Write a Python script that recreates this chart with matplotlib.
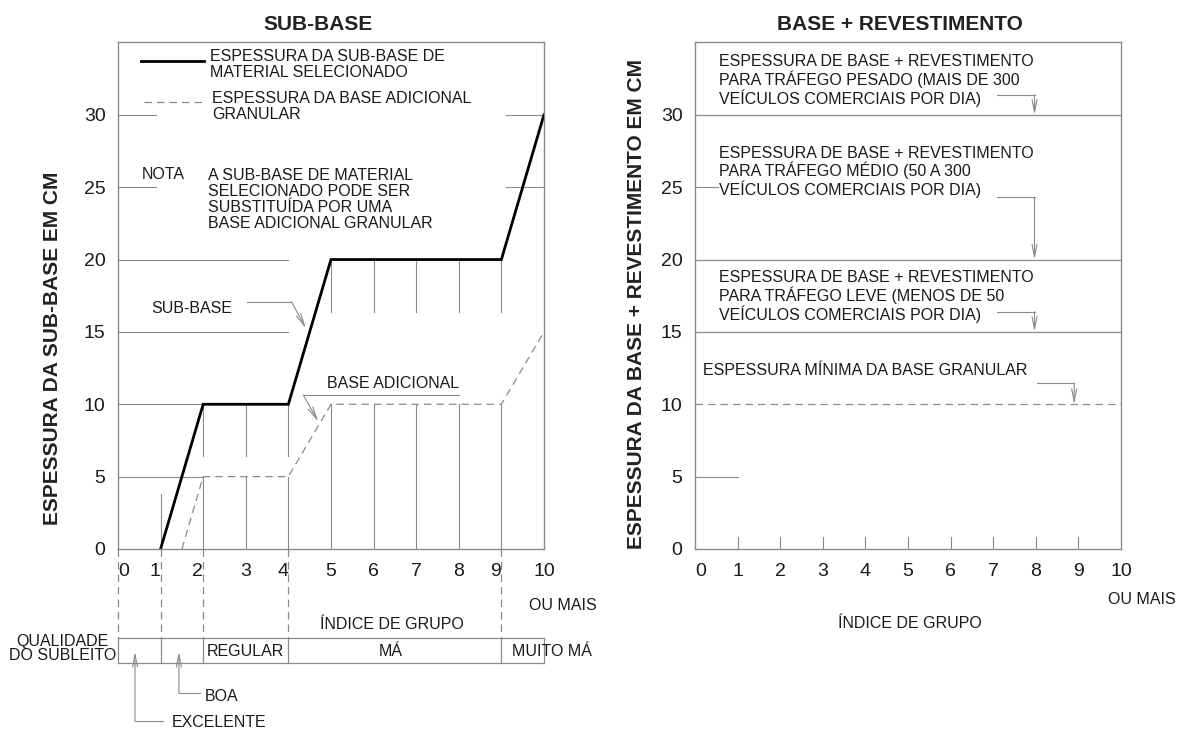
import numpy as np
import matplotlib
matplotlib.use("Agg")
import matplotlib.pyplot as plt

plt.rcParams['font.family'] = ['Liberation Sans', 'DejaVu Sans']

# --- data ---
group_index = list(range(11))
y_ticks = [0, 5, 10, 15, 20, 25, 30]

# sub-base thickness (selected material), cm
sub_base_x = [1, 2, 4, 5, 9, 10]
sub_base_y = [0, 10, 10, 20, 20, 30]

# additional granular base thickness, cm
base_add_x = [1.5, 2, 4, 5, 9, 10]
base_add_y = [0, 5, 5, 10, 10, 15]

# subgrade quality classes by group index
quality_bounds = [0, 1, 2, 4, 9, 10]
quality_labels = ['EXCELENTE', 'BOA', 'REGULAR', 'MÁ', 'MUITO MÁ']

# base + surface thickness by traffic, cm
traffic_thick = [30, 20, 15]
traffic_labels = [
    'ESPESSURA DE BASE + REVESTIMENTO\nPARA TRÁFEGO PESADO (MAIS DE 300\nVEÍCULOS COMERCIAIS POR DIA)',
    'ESPESSURA DE BASE + REVESTIMENTO\nPARA TRÁFEGO MÉDIO (50 A 300\nVEÍCULOS COMERCIAIS POR DIA)',
    'ESPESSURA DE BASE + REVESTIMENTO\nPARA TRÁFEGO LEVE (MENOS DE 50\nVEÍCULOS COMERCIAIS POR DIA)',
]
min_base = 10

GRAY = '#8a8a8a'
INK = '#1a1a1a'
FS = 11.5
LS = 1.1


def leader(ax, xs, ys):
    # polyline with an open arrow head on the last segment
    ax.plot(xs[:-1], ys[:-1], color=GRAY, lw=0.8, clip_on=False)
    ax.annotate('', xy=(xs[-1], ys[-1]), xytext=(xs[-2], ys[-2]),
                annotation_clip=False,
                arrowprops=dict(arrowstyle='->,head_length=0.9,head_width=0.18',
                                color=GRAY, lw=0.8, shrinkA=0, shrinkB=0))


def frame(ax):
    ax.set_xlim(0, 10)
    ax.set_ylim(0, 35)
    for s in ax.spines.values():
        s.set_color(GRAY)
        s.set_linewidth(1.0)
    ax.set_yticks(y_ticks)
    ax.set_yticklabels([str(v) for v in y_ticks], fontsize=14, color=INK)
    ax.set_xticks(group_index)
    ax.set_xticklabels([str(v) for v in group_index], fontsize=14, color=INK)
    ax.tick_params(axis='both', length=0)
    ax.tick_params(axis='y', pad=9)
    ax.tick_params(axis='x', pad=10)
    ax.get_xticklabels()[0].set_horizontalalignment('left')


fig = plt.figure(figsize=(11.81, 7.31), dpi=100)
fig.patch.set_facecolor('white')
axL = fig.add_axes([0.0999, 0.249, 0.3607, 0.6929])
axR = fig.add_axes([0.5885, 0.249, 0.3607, 0.6929])
frame(axL)
frame(axR)

# ================= left: SUB-BASE =================
ax = axL
for i in [1, 2, 4, 9]:
    ax.get_xticklabels()[i].set_horizontalalignment('right')

# partial horizontal guides
for y, segs in [(30, [(0, 0.9), (9.1, 10)]), (25, [(0, 0.9), (9.1, 10)]),
                (20, [(0, 4)]), (15, [(0, 4)]), (10, [(0, 2)]), (5, [(0, 2)])]:
    for a, b in segs:
        ax.plot([a, b], [y, y], color=GRAY, lw=0.8)

# vertical guides below the curves
ax.plot([1, 1], [0, 3.8], color=GRAY, lw=0.8)
for x in [2, 3, 4]:
    ax.plot([x, x], [6.4, 10], color=GRAY, lw=0.8)
    ax.plot([x, x], [0, 5], color=GRAY, lw=0.8)
for x in [5, 6, 7, 8, 9]:
    ax.plot([x, x], [16.4, 20], color=GRAY, lw=0.8)
    ax.plot([x, x], [0, 10], color=GRAY, lw=0.8)

ax.plot(base_add_x, base_add_y, color=GRAY, lw=0.9, ls=(0, (6, 4)))
ax.plot(sub_base_x, sub_base_y, color='black', lw=2.0, solid_joinstyle='miter')

# legend block
ax.plot([0.55, 2.03], [33.7, 33.7], color='black', lw=2.0)
ax.text(2.17, 33.5, 'ESPESSURA DA SUB-BASE DE\nMATERIAL SELECIONADO',
        fontsize=FS, color=INK, va='center', ha='left', linespacing=LS)
ax.plot([0.6, 2.03], [30.9, 30.9], color=GRAY, lw=0.9, ls=(0, (6, 4)))
ax.text(2.21, 30.6, 'ESPESSURA DA BASE ADICIONAL\nGRANULAR',
        fontsize=FS, color=INK, va='center', ha='left', linespacing=LS)
ax.text(0.55, 25.85, 'NOTA', fontsize=FS, color=INK, va='center', ha='left')
ax.text(2.12, 24.15, 'A SUB-BASE DE MATERIAL\nSELECIONADO PODE SER\nSUBSTITUÍDA POR UMA\nBASE ADICIONAL GRANULAR',
        fontsize=FS, color=INK, va='center', ha='left', linespacing=LS)

ax.text(0.77, 16.6, 'SUB-BASE', fontsize=FS, color=INK, va='center', ha='left')
leader(ax, [3.02, 4.07, 4.41], [17.1, 17.1, 15.25])
ax.text(4.9, 11.45, 'BASE ADICIONAL', fontsize=FS, color=INK, va='center', ha='left')
leader(ax, [8.0, 4.35, 4.7], [10.64, 10.64, 8.8])

# below axis: group index and subgrade quality
q_top, q_bot = -6.17, -7.9
for x in quality_bounds[:-1]:
    ax.plot([x, x], [0, q_top], color=GRAY, lw=0.9, ls=(0, (6, 4)), clip_on=False)
for x in quality_bounds:
    ax.plot([x, x], [q_top, q_bot], color=GRAY, lw=0.9, clip_on=False)
ax.plot([0, 10], [q_top, q_top], color=GRAY, lw=0.9, clip_on=False)
ax.plot([0, 10], [q_bot, q_bot], color=GRAY, lw=0.9, clip_on=False)

ax.text(10.45, -3.9, 'OU MAIS', fontsize=FS, color=INK, ha='center', va='center')
ax.text(6.42, -5.25, 'ÍNDICE DE GRUPO', fontsize=FS, color=INK, ha='center', va='center')
ax.text(-1.3, -6.87, 'QUALIDADE\nDO SUBLEITO', fontsize=FS, color=INK,
        ha='center', va='center', multialignment='center', linespacing=0.95)
ax.text(2.98, -7.1, quality_labels[2], fontsize=FS, color=INK, ha='center', va='center')
ax.text(6.4, -7.1, quality_labels[3], fontsize=FS, color=INK, ha='center', va='center')
ax.text(10.18, -7.1, quality_labels[4], fontsize=FS, color=INK, ha='center', va='center')

leader(ax, [1.06, 0.4, 0.4], [-11.9, -11.9, -7.1])
ax.text(1.26, -12.0, quality_labels[0], fontsize=FS, color=INK, ha='left', va='center')
leader(ax, [1.92, 1.43, 1.43], [-9.97, -9.97, -7.1])
ax.text(2.04, -10.2, quality_labels[1], fontsize=FS, color=INK, ha='left', va='center')

# ================= right: BASE + REVESTIMENTO =================
ax = axR
for y in traffic_thick:
    ax.plot([0, 10], [y, y], color=GRAY, lw=0.9)
ax.plot([0, 0.55], [25, 25], color=GRAY, lw=0.8)
ax.plot([0, 1], [5, 5], color=GRAY, lw=0.8)
ax.plot([0, 10], [min_base, min_base], color=GRAY, lw=0.9, ls=(0, (6, 4)))
for x in range(1, 10):
    ax.plot([x, x], [0, 0.83], color=GRAY, lw=0.8)

for lab, ty, yc, ly in zip(traffic_labels, traffic_thick, [32.4, 26.05, 17.45], [31.4, 24.3, 16.4]):
    ax.text(0.57, yc, lab, fontsize=FS, color=INK, va='center', ha='left', linespacing=LS)
    leader(ax, [7.08, 7.97, 7.97], [ly, ly, ty])

ax.text(0.18, 12.3, 'ESPESSURA MÍNIMA DA BASE GRANULAR', fontsize=FS, color=INK,
        va='center', ha='left')
leader(ax, [8.02, 8.9, 8.9], [11.45, 11.45, min_base])

ax.text(10.48, -3.5, 'OU MAIS', fontsize=FS, color=INK, ha='center', va='center')
ax.text(5.05, -5.14, 'ÍNDICE DE GRUPO', fontsize=FS, color=INK, ha='center', va='center')

# titles and axis labels
fig.text(318 / 1181, 1 - 24 / 731, 'SUB-BASE', fontsize=15, fontweight='bold',
         color='#222222', ha='center', va='center')
fig.text(900 / 1181, 1 - 24 / 731, 'BASE + REVESTIMENTO', fontsize=15, fontweight='bold',
         color='#222222', ha='center', va='center')
fig.text(53 / 1181, 1 - 348 / 731, 'ESPESSURA DA SUB-BASE EM CM', fontsize=15,
         fontweight='bold', color='#222222', rotation=90, ha='center', va='center')
fig.text(637 / 1181, 1 - 304 / 731, 'ESPESSURA DA BASE + REVESTIMENTO EM CM', fontsize=15,
         fontweight='bold', color='#222222', rotation=90, ha='center', va='center')

fig.savefig('out.png', dpi=100, facecolor='white')
